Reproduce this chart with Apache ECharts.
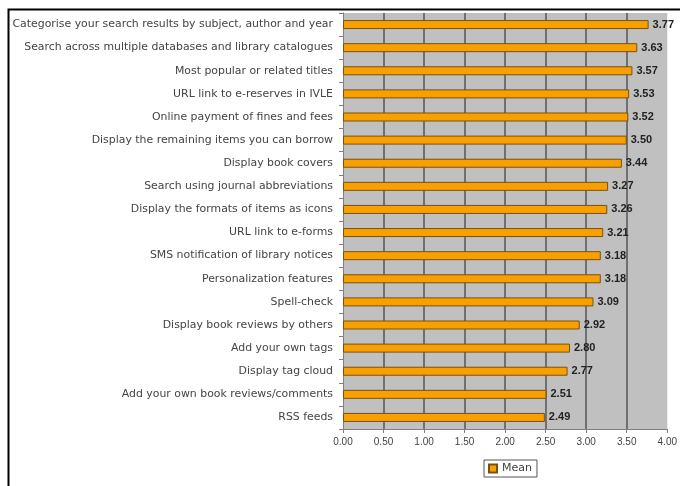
<!DOCTYPE html>
<html>
<head>
<meta charset="utf-8">
<script src="https://cdn.jsdelivr.net/npm/echarts@6/dist/echarts.min.js"></script>
<style>
  html, body { margin: 0; padding: 0; background: #fff; }
  #chart { width: 680px; height: 486px; }
</style>
</head>
<body>
<div id="chart"></div>
<script>
// Library feature ratings, mean score per feature (top to bottom)
const features = [
  'Categorise your search results by subject, author and year',
  'Search across multiple databases and library catalogues',
  'Most popular or related titles',
  'URL link to e-reserves in IVLE',
  'Online payment of fines and fees',
  'Display the remaining items you can borrow',
  'Display book covers',
  'Search using journal abbreviations',
  'Display the formats of items as icons',
  'URL link to e-forms',
  'SMS notification of library notices',
  'Personalization features',
  'Spell-check',
  'Display book reviews by others',
  'Add your own tags',
  'Display tag cloud',
  'Add your own book reviews/comments',
  'RSS feeds'
];
const meanScores = [3.77, 3.63, 3.57, 3.53, 3.52, 3.50, 3.44, 3.27, 3.26, 3.21, 3.18, 3.18, 3.09, 2.92, 2.80, 2.77, 2.51, 2.49];
const seriesName = 'Mean';
const axisMin = 0, axisMax = 4, axisStep = 0.5;

const chart = echarts.init(document.getElementById('chart'), null, { renderer: 'canvas' });
const FONT = 'Liberation Sans, Arial, sans-serif';
const LABEL_FONT = 'DejaVu Sans, Verdana, sans-serif';

chart.setOption({
  animation: false,
  backgroundColor: '#ffffff',
  graphic: [{
    type: 'rect',
    shape: { x: 8.5, y: 9.5, width: 700, height: 500 },
    style: { fill: 'none', stroke: '#000', lineWidth: 2 },
    silent: true,
    z: -1
  }],
  grid: {
    left: 343, top: 13, width: 330, height: 416,
    show: true, backgroundColor: '#c0c0c0', borderWidth: 0
  },
  legend: {
    data: [seriesName],
    left: 484, top: 460,
    icon: 'rect', itemWidth: 8, itemHeight: 8, itemGap: 4,
    padding: [3, 5, 3, 4],
    borderColor: '#555', borderWidth: 1,
    textStyle: { fontFamily: LABEL_FONT, fontSize: 11, color: '#444' }
  },
  xAxis: {
    type: 'value', min: axisMin, max: axisMax, interval: axisStep,
    axisLine: { show: true, lineStyle: { color: '#808080', width: 1 } },
    axisTick: { show: true, length: 4, lineStyle: { color: '#808080' } },
    splitLine: { show: true, showMinLine: false, showMaxLine: false, lineStyle: { color: '#707070', width: 2 } },
    axisLabel: {
      fontFamily: FONT, fontSize: 10, color: '#444', margin: 8,
      formatter: v => v.toFixed(2)
    }
  },
  yAxis: {
    type: 'category', data: features, inverse: true,
    axisLine: { show: true, lineStyle: { color: '#808080' } },
    axisTick: { show: true, length: 4, lineStyle: { color: '#808080' } },
    axisLabel: { fontFamily: LABEL_FONT, fontSize: 10.9, color: '#444', margin: 10 }
  },
  series: [{
    name: seriesName, type: 'bar', data: meanScores,
    barWidth: 9,
    itemStyle: { color: '#f8a000', borderColor: '#7a5010', borderWidth: 1 },
    label: {
      show: true, position: 'right', distance: 4,
      fontFamily: FONT, fontSize: 11, fontWeight: 'bold', color: '#222',
      formatter: p => p.value.toFixed(2)
    }
  }]
});
</script>
</body>
</html>
